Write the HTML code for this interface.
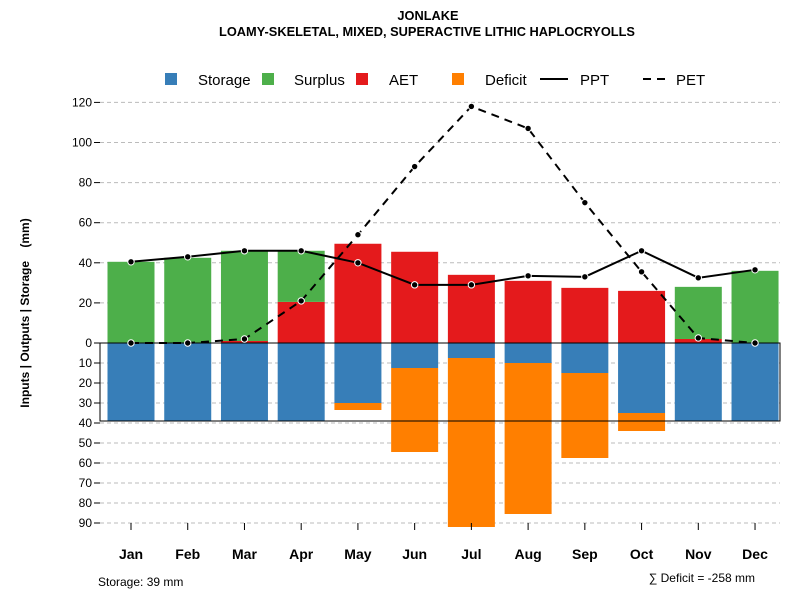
<!DOCTYPE html>
<html><head><meta charset="utf-8"><style>
body{margin:0;background:#fff;font-family:"Liberation Sans",sans-serif}
svg text{font-family:"Liberation Sans",sans-serif}
</style></head><body>
<svg id="c" width="800" height="600">
<text x="428" y="20" text-anchor="middle" font-size="12.8" font-weight="bold">JONLAKE</text>
<text x="427" y="36" text-anchor="middle" font-size="12.8" font-weight="bold">LOAMY-SKELETAL, MIXED, SUPERACTIVE LITHIC HAPLOCRYOLLS</text>
<g id="grid"></g><g id="bars"></g><g id="lines"></g><g id="axes"></g>
<g>
<rect x="165" y="73" width="12" height="12" fill="#377EB8"/>
<text x="198" y="85" font-size="15">Storage</text>
<rect x="262" y="73" width="12" height="12" fill="#4DAF4A"/>
<text x="294" y="85" font-size="15">Surplus</text>
<rect x="356" y="73" width="12" height="12" fill="#E41A1C"/>
<text x="389" y="85" font-size="15">AET</text>
<rect x="452" y="73" width="12" height="12" fill="#FF7F00"/>
<text x="485" y="85" font-size="15">Deficit</text>
<line x1="540" y1="79" x2="568" y2="79" stroke="#000" stroke-width="2"/>
<text x="580" y="85" font-size="15">PPT</text>
<line x1="643" y1="79" x2="671" y2="79" stroke="#000" stroke-width="2" stroke-dasharray="8,6"/>
<text x="676" y="85" font-size="15">PET</text>
</g>
<text x="29" y="313" font-size="12" font-weight="bold" text-anchor="middle" transform="rotate(-90 29 313)">Inputs | Outputs | Storage &#160;&#160;&#160;(mm)</text>
<text x="98" y="586" font-size="12">Storage: 39 mm</text>
<text x="755" y="582" font-size="12" text-anchor="end">∑ Deficit = -258 mm</text>
</svg>
<script>
const months=["Jan","Feb","Mar","Apr","May","Jun","Jul","Aug","Sep","Oct","Nov","Dec"];
const storage=[39,39,39,39,30,12.5,7.5,10,15,35,39,39];
const deficit=[0,0,0,0,3.5,42,84.5,75.5,42.5,9,0,0];
const aet=[0,0,1,20.5,49.5,45.5,34,31,27.5,26,2,0];
const surplus=[40.5,42.5,45,25.5,0,0,0,0,0,0,26,36];
const ppt=[40.5,43,46,46,40,29,29,33.5,33,46,32.5,36.5];
const pet=[0,0,2,21,54,88,118,107,70,35.5,2.5,0];
const upTicks=[0,20,40,60,80,100,120];
const downTicks=[10,20,30,40,50,60,70,80,90];
const NS="http://www.w3.org/2000/svg";
const y0=343,k=2.005;
const yUp=v=>y0-v*k, yDn=v=>y0+v*2.0;
const xm=i=>131+i*56.73, bw=47;
function mk(t,a,p){const e=document.createElementNS(NS,t);for(const q in a)e.setAttribute(q,a[q]);document.getElementById(p).appendChild(e);return e;}
upTicks.forEach(v=>{
 const g=mk("line",{x1:100,x2:780,y1:yUp(v),y2:yUp(v),stroke:"#bbb","stroke-dasharray":"4,3"},"grid");
 
 
 const t=mk("line",{x1:94,x2:100,y1:yUp(v),y2:yUp(v),stroke:"#000"},"axes");
 
 
 const l=mk("text",{x:92,y:yUp(v)+4,"text-anchor":"end","font-size":12},"axes");l.textContent=v;
 
 
});
downTicks.forEach(v=>{
 const g=mk("line",{x1:100,x2:780,y1:yDn(v),y2:yDn(v),stroke:"#bbb","stroke-dasharray":"4,3"},"grid");
 
 
 const t=mk("line",{x1:94,x2:100,y1:yDn(v),y2:yDn(v),stroke:"#000"},"axes");
 
 
 const l=mk("text",{x:92,y:yDn(v)+4,"text-anchor":"end","font-size":12},"axes");l.textContent=v;
 
 
});
months.forEach((m,i)=>{
 const x=xm(i)-bw/2;
 let r=mk("rect",{x:x,y:y0,width:bw,height:storage[i]*2.0,fill:"#377EB8"},"bars");
 
 
 if(deficit[i]>0){r=mk("rect",{x:x,y:yDn(storage[i]),width:bw,height:deficit[i]*2.0,fill:"#FF7F00"},"bars");
 
 }
 if(aet[i]>0){r=mk("rect",{x:x,y:yUp(aet[i]),width:bw,height:aet[i]*k,fill:"#E41A1C"},"bars");
 
 }
 if(surplus[i]>0){r=mk("rect",{x:x,y:yUp(aet[i]+surplus[i]),width:bw,height:surplus[i]*k,fill:"#4DAF4A"},"bars");
 
 }
 const t=mk("line",{x1:xm(i),x2:xm(i),y1:523,y2:530,stroke:"#000"},"axes");
 
 
 const l=mk("text",{x:xm(i),y:559,"text-anchor":"middle","font-size":14,"font-weight":"bold"},"axes");l.textContent=m;
 
 
});
let b=mk("line",{x1:100,x2:780,y1:y0,y2:y0,stroke:"#000"},"bars");


b=mk("rect",{x:100,y:y0,width:680,height:39*2.0,fill:"none",stroke:"#000"},"bars");


function series(arr,name,dash){
 const p=mk("polyline",{points:arr.map((v,i)=>xm(i)+","+yUp(v)).join(" "),fill:"none",stroke:"#000","stroke-width":2,"stroke-dasharray":dash},"lines");
 
 
 arr.forEach((v,i)=>{const c=mk("circle",{cx:xm(i),cy:yUp(v),r:3.2,fill:"#000",stroke:"#fff","stroke-width":1},"lines");
 
 });
}
series(pet,"pet","8,6");
series(ppt,"ppt","none");
</script>
</body></html>
